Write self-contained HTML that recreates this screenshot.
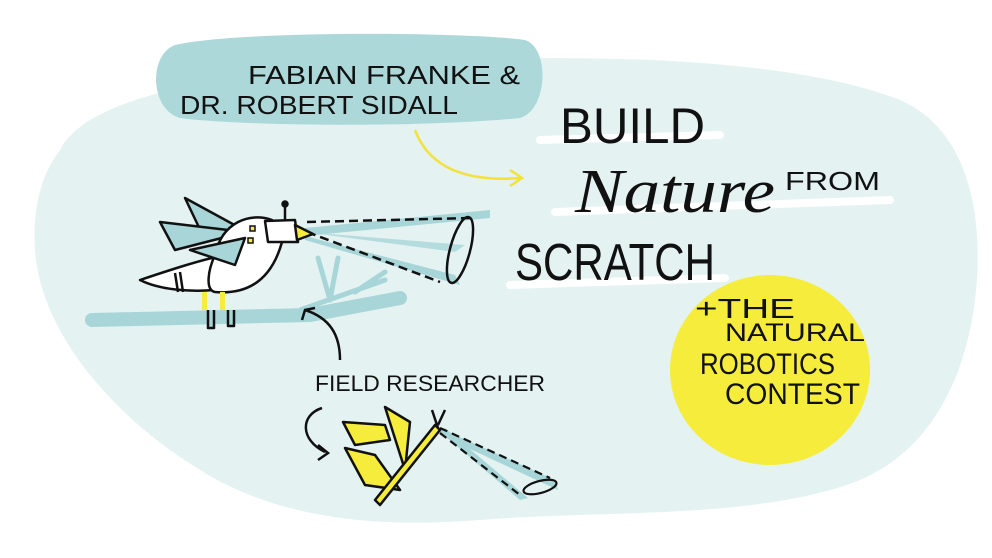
<!DOCTYPE html>
<html><head><style>
html,body{margin:0;padding:0;background:#fff;}
svg{display:block}
text{font-family:"Liberation Sans",sans-serif;fill:#111;}
</style></head><body>
<svg width="992" height="558" viewBox="0 0 992 558" xmlns="http://www.w3.org/2000/svg">
<rect width="992" height="558" fill="#fff"/>
<path d="M60 150 C90 90 250 70 420 62 C600 52 800 60 900 100 C970 130 985 220 975 300 C965 380 930 450 860 480 C760 520 600 510 480 520 C380 528 280 520 200 470 C110 415 40 330 35 250 C32 200 45 170 60 150 Z" fill="#e4f2f2"/>
<path d="M175 45 C240 30 470 32 525 40 C550 48 548 110 520 118 C420 128 240 126 180 118 C150 110 148 55 175 45 Z" fill="#acd8da"/>
<ellipse cx="770" cy="370" rx="100" ry="95" fill="#f6ec3c"/>
<path d="M540 140 L720 135" stroke="#fff" stroke-width="8" stroke-linecap="round"/>
<path d="M555 212 L890 200" stroke="#fff" stroke-width="8" stroke-linecap="round"/>
<path d="M510 285 L725 278" stroke="#fff" stroke-width="8" stroke-linecap="round"/>
<text x="248" y="84" font-size="26" textLength="272" lengthAdjust="spacingAndGlyphs">FABIAN FRANKE &amp;</text>
<text x="180" y="114" font-size="26" textLength="278" lengthAdjust="spacingAndGlyphs">DR. ROBERT SIDALL</text>
<text x="560" y="143" font-size="50" textLength="145" lengthAdjust="spacingAndGlyphs">BUILD</text>
<text x="575" y="212" font-size="62" font-style="italic" style="font-family:'Liberation Serif',serif" textLength="200" lengthAdjust="spacingAndGlyphs">Nature</text>
<text x="785" y="190" font-size="26" textLength="95" lengthAdjust="spacingAndGlyphs">FROM</text>
<text x="515" y="280" font-size="52" textLength="200" lengthAdjust="spacingAndGlyphs">SCRATCH</text>
<text x="695" y="318" font-size="28" textLength="100" lengthAdjust="spacingAndGlyphs">+THE</text>
<text x="725" y="341" font-size="25" textLength="140" lengthAdjust="spacingAndGlyphs">NATURAL</text>
<text x="700" y="374" font-size="30" textLength="135" lengthAdjust="spacingAndGlyphs">ROBOTICS</text>
<text x="725" y="404" font-size="30" textLength="135" lengthAdjust="spacingAndGlyphs">CONTEST</text>
<text x="315" y="391" font-size="22" textLength="230" lengthAdjust="spacingAndGlyphs">FIELD RESEARCHER</text>
<path d="M415 130 C430 170 470 182 520 178" fill="none" stroke="#f2e23a" stroke-width="2.5"/>
<path d="M510 170 L522 178 L510 186" fill="none" stroke="#f2e23a" stroke-width="2.5"/>
<path d="M92 320 L310 315 L400 298" stroke="#a8d6d8" stroke-width="14" stroke-linecap="round" fill="none"/>
<path d="M300 310 L385 280 M330 300 L318 258 M330 300 L338 258 M355 292 L385 272" stroke="#a8d6d8" stroke-width="5" stroke-linecap="round" fill="none"/>
<path d="M305 228 L490 210 L490 218 L305 236 Z" fill="#a8d6d8"/>
<path d="M305 236 L455 275 L460 285 L305 240 Z" fill="#a8d6d8"/>
<path d="M305 232 L465 245 L455 252 Z" fill="#a8d6d8" opacity="0.8"/>
<path d="M307 222 L470 218 M307 232 L440 282" stroke="#111" stroke-width="2.5" stroke-dasharray="9 5" fill="none"/>
<ellipse cx="460" cy="250" rx="10" ry="34" transform="rotate(15 460 250)" fill="none" stroke="#111" stroke-width="2.5"/>
<g stroke="#111" stroke-width="2.5" stroke-linejoin="round" fill="none">
<path d="M185 198 L240 228 L205 240 Z" fill="#a8d6d8"/>
<path d="M160 222 L245 232 L175 250 Z" fill="#a8d6d8"/>
<path d="M140 280 C170 270 200 260 225 255 L215 290 C190 292 160 290 140 280 Z" fill="#fff"/>
<path d="M215 255 C222 222 250 212 272 220 L282 242 C272 278 250 295 215 292 C205 290 208 270 215 255 Z" fill="#fff"/>
<path d="M265 221 L295 220 L298 242 L268 242 Z" fill="#fff"/>
<path d="M295 225 L313 234 L297 240 Z" fill="#f6ec3c"/>
<path d="M285 205 L285 220"/><circle cx="285" cy="204" r="2.5" fill="#111"/>
<path d="M190 250 L245 238 L235 265 Z" fill="#a8d6d8"/>
<path d="M175 273 L178 292 M180 272 L183 292"/>
<path d="M205 292 L205 310 M222 292 L222 310"/>
<path d="M208 310 L208 328 L214 328 L214 310 M228 310 L228 326 L234 326 L234 310" fill="#a8d6d8"/>
</g>
<rect x="202" y="292" width="5" height="18" fill="#f6ec3c"/>
<rect x="220" y="292" width="5" height="18" fill="#f6ec3c"/>
<rect x="250" y="226" width="5" height="5" fill="#f6ec3c" stroke="#111" stroke-width="1.5"/>
<rect x="248" y="238" width="5" height="5" fill="#f6ec3c" stroke="#111" stroke-width="1.5"/>
<path d="M340 360 C340 335 330 318 305 310" fill="none" stroke="#111" stroke-width="2.5"/>
<path d="M302 320 L305 310 L315 308" fill="none" stroke="#111" stroke-width="2.5"/>
<path d="M322 408 C300 415 300 440 325 452" fill="none" stroke="#111" stroke-width="2.5"/>
<path d="M318 445 L328 453 L318 460" fill="none" stroke="#111" stroke-width="2.5"/>
<path d="M440 428 L555 480 L558 490 L440 435 Z" fill="#a8d6d8"/>
<path d="M440 432 L520 500 L528 498 L445 428 Z" fill="#a8d6d8"/>
<path d="M440 428 L550 478 M440 433 L520 495" stroke="#111" stroke-width="2.2" stroke-dasharray="8 5" fill="none"/>
<ellipse cx="540" cy="487" rx="17" ry="6" transform="rotate(-15 540 487)" fill="none" stroke="#111" stroke-width="2.2"/>
<g stroke="#111" stroke-width="2.5" stroke-linejoin="round" fill="#f6ec3c">
<path d="M343 422 L385 425 L390 440 L355 445 Z"/>
<path d="M385 407 L410 422 L405 470 Z"/>
<path d="M345 448 L375 455 L400 490 L365 485 Z"/>
<path d="M380 505 L440 430 L435 425 L375 500 Z"/>
<path d="M432 410 L438 428 M445 410 L438 425" fill="none"/>
</g>
</svg>
</body></html>
